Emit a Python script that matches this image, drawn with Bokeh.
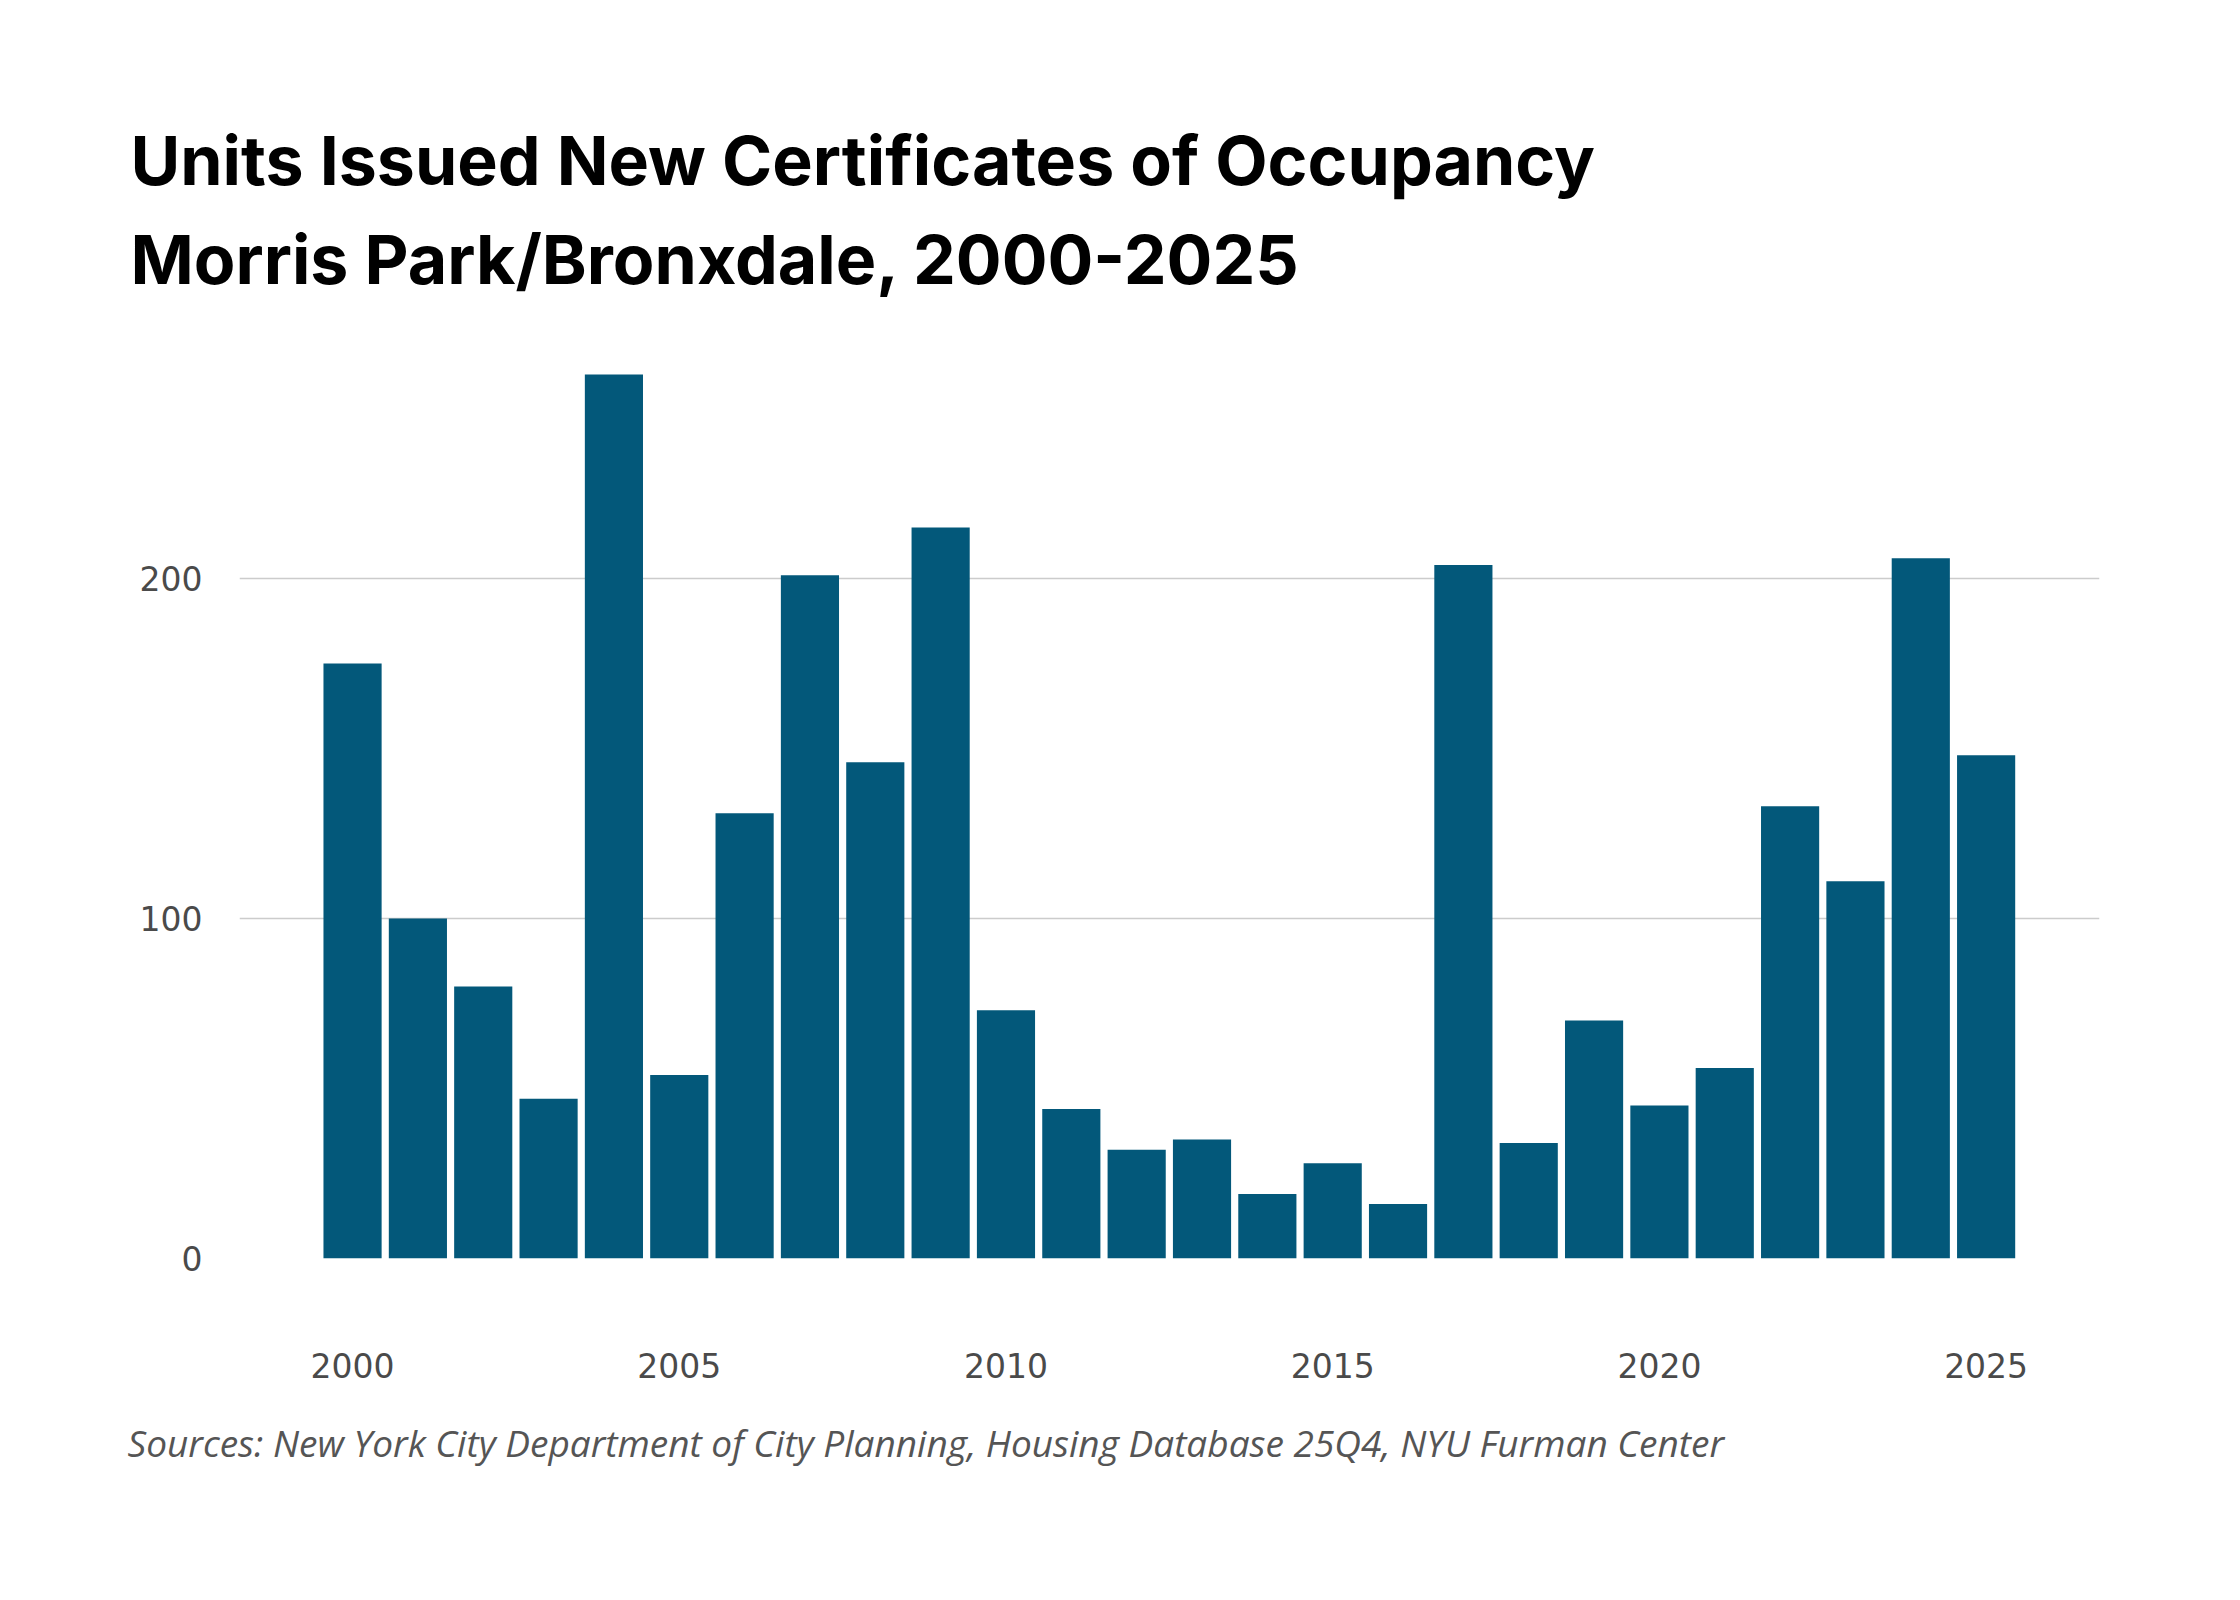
from bokeh.plotting import figure
from bokeh.models import Range1d, Title, ColumnDataSource, FixedTicker
from bokeh.embed import file_html
from bokeh.resources import INLINE

years = [2000, 2001, 2002, 2003, 2004, 2005, 2006, 2007, 2008, 2009, 2010, 2011, 2012,
         2013, 2014, 2015, 2016, 2017, 2018, 2019, 2020, 2021, 2022, 2023, 2024, 2025]
units = [175, 100, 80, 47, 260, 54, 131, 201, 146, 215, 73, 44, 32,
         35, 19, 28, 16, 204, 34, 70, 45, 56, 133, 111, 206, 148]
x_ticks = [2000, 2005, 2010, 2015, 2020, 2025]
y_ticks = [0, 100, 200]
title_1 = "Units Issued New Certificates of Occupancy"
title_2 = "Morris Park/Bronxdale, 2000-2025"
source_note = "Sources: New York City Department of City Planning, Housing Database 25Q4, NYU Furman Center"

BAR = "#03587a"
TICK = "#4a4a4a"

src = ColumnDataSource(dict(year=years, units=units))

p = figure(width=2224, height=1584, output_backend="svg", toolbar_location=None,
           x_range=Range1d(1998.27, 2026.735), y_range=Range1d(0, 281.8),
           min_border_left=239, min_border_right=125, min_border_top=300, min_border_bottom=326,
           background_fill_color="white", border_fill_color="white")
p.outline_line_color = None
p.title.visible = False

p.vbar(x="year", top="units", width=0.89, bottom=0, source=src, color=BAR, line_color=None)

p.xgrid.grid_line_color = None
p.ygrid.grid_line_color = "#cccccc"
p.ygrid.grid_line_width = 1.6

for ax in (p.xaxis, p.yaxis):
    ax.axis_line_color = None
    ax.major_tick_line_color = None
    ax.minor_tick_line_color = None
    ax.major_tick_out = 0
    ax.major_tick_in = 0
    ax.minor_tick_out = 0
    ax.major_label_text_font = "DejaVu Sans"
    ax.major_label_text_font_size = "33px"
    ax.major_label_text_color = TICK

p.xaxis.ticker = FixedTicker(ticks=x_ticks)
p.yaxis.ticker = FixedTicker(ticks=y_ticks)
p.xaxis.major_label_standoff = 94
p.yaxis.major_label_standoff = 37

p.add_layout(Title(text=title_2, align="left", offset=-109, standoff=2,
                   text_font="Inter", text_font_style="bold", text_font_size="68px",
                   text_color="black"), "above")
p.add_layout(Title(text=title_1, align="left", offset=-109, standoff=28,
                   text_font="Inter", text_font_style="bold", text_font_size="68px",
                   text_color="black"), "above")
p.add_layout(Title(text=source_note, align="left", offset=-112, standoff=72, vertical_align="top",
                   text_font="Open Sans", text_font_style="italic", text_font_size="37px",
                   text_color="#555555"), "below")

open("out.html", "w").write(file_html(p, INLINE))
